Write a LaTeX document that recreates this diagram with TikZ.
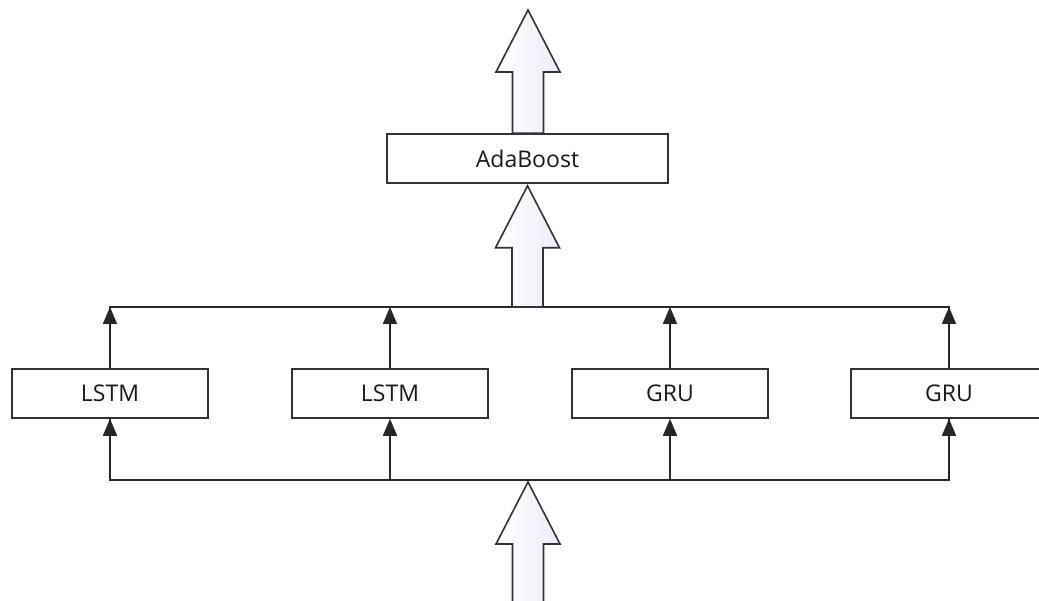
\documentclass[tikz,border=0pt]{standalone}
\usepackage{fontspec}
\setmainfont{Open Sans}
\usetikzlibrary{arrows.meta,calc}
\definecolor{edge}{RGB}{51,51,51}
\definecolor{arrowfill}{RGB}{234,237,247}
\tikzset{
  unit/.style={draw=edge, line width=1.6pt, fill=white, minimum width=196pt,
    minimum height=49pt, inner sep=0pt, text=black!90,
    font=\fontsize{23}{27}\selectfont},
  link/.style={draw=black!85, line width=1.6pt},
  tipline/.style={link, -{Triangle[width=14pt,length=17pt]}},
  flow/.style={draw=edge, line width=1.6pt, left color=white,
    right color=arrowfill, line join=miter},
}
% hollow block arrow: tip point #1, shaft ends level with #2
\newcommand\fatarrow[2]{%
  \path[flow] (#1) -- ++(32,62) -- ++(-16.5,0)
    -- ($(#1 |- #2)+(15.5,0)$) -- ($(#1 |- #2)+(-15.5,0)$)
    -- ($(#1)+(-15.5,62)$) -- ++(-16.5,0) -- cycle;}
\begin{document}
\begin{tikzpicture}[x=1pt,y=-1pt]
  \useasboundingbox (0,0) rectangle (1039,601);
  \clip (0,0) rectangle (1039,601);

  % models
  \node[unit] (l1) at (110,393.5) {LSTM};
  \node[unit] (l2) at (390,393.5) {LSTM};
  \node[unit] (g1) at (670,393.5) {GRU};
  \node[unit] (g2) at (949,393.5) {GRU};
  \node[unit, minimum width=281pt] (ada) at (527.5,158.5) {AdaBoost};

  % bus points and block-arrow tips
  \coordinate (busT) at (528,307);
  \coordinate (busB) at (528,480);
  \coordinate (out)  at (528,10);
  \coordinate (mid)  at ($(ada.south)+(0,2)$);
  \coordinate (inp)  at (528,482);
  \coordinate (in)   at (528,620);

  % collecting bus above the models
  \draw[link] (l1.north) -- (l1.north |- busT) -- (g2.north |- busT) -- (g2.north);
  \foreach \m in {l1,l2,g1,g2}
    \draw[tipline] (\m.north) -- (\m.north |- busT);

  % distributing bus below the models
  \draw[link] (l1.south) -- (l1.south |- busB) -- (g2.south |- busB) -- (g2.south);
  \foreach \m in {l1,l2,g1,g2}
    \draw[tipline] (\m.south |- busB) -- (\m.south);

  % block arrows
  \fatarrow{out}{ada.north}
  \fatarrow{mid}{busT}
  \fatarrow{inp}{in}
\end{tikzpicture}
\end{document}
